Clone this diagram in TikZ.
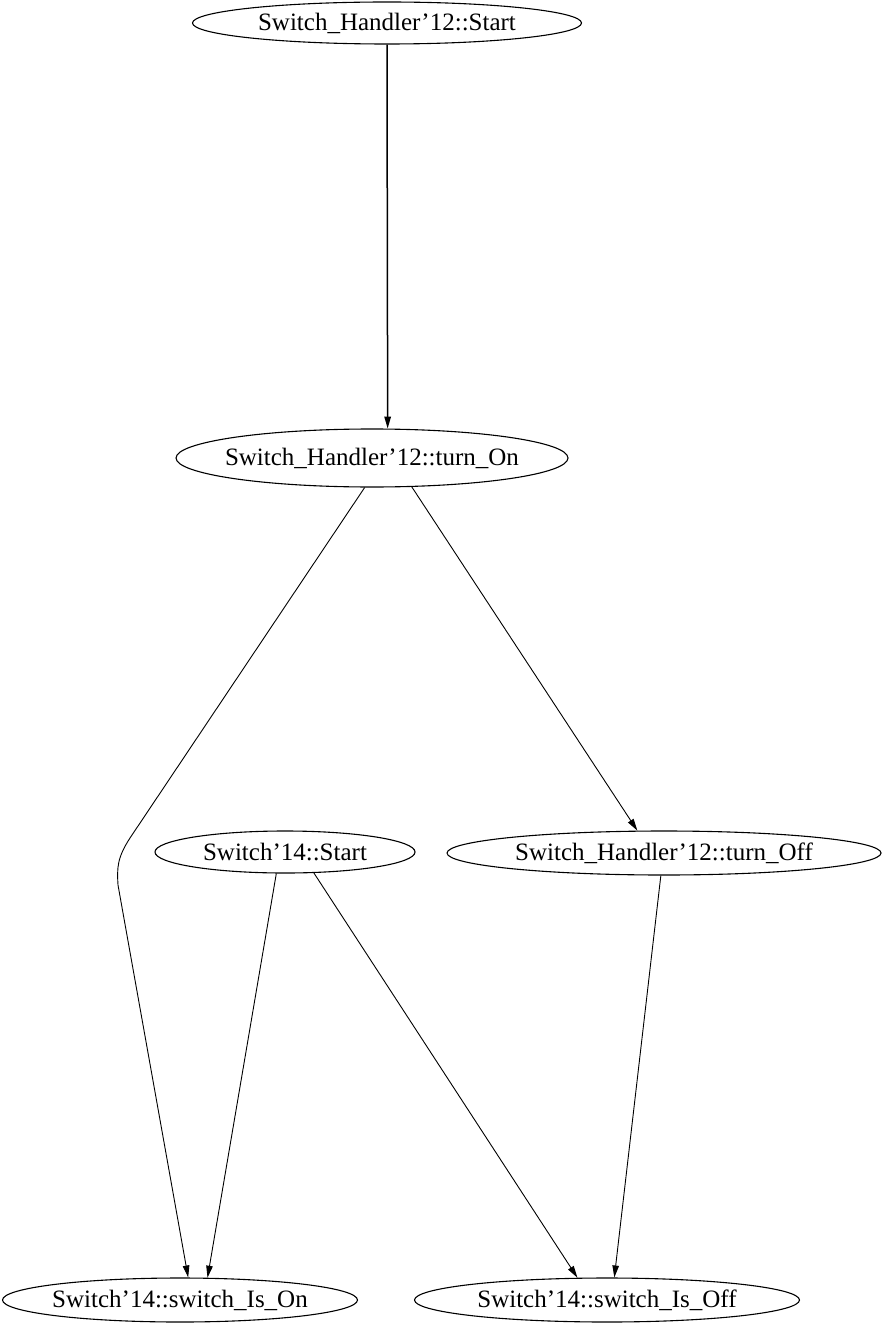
\documentclass[tikz,border=0pt]{standalone}
\usepackage{fontspec}
\setmainfont{Liberation Serif}
\usetikzlibrary{shapes.geometric,arrows.meta}

% the ellipse size is set by minimum width/height alone; the label is centred in it
\newcommand{\statelabel}[1]{\makebox[0pt]{#1}}

\tikzset{
  state/.style={draw, ellipse, inner sep=0pt, line width=1.1pt,
    font=\fontsize{25}{29}\selectfont},
  flow/.style={line width=0.9pt, -{Triangle[length=12pt,width=6.5pt]}},
}

\begin{document}
\begin{tikzpicture}[x=1pt,y=-1pt]
  \useasboundingbox (0,0) rectangle (881,1337);

  % states
  \node[state, minimum width=389pt, minimum height=42pt] (hstart) at (387,23)  {\statelabel{Switch\_Handler’12::Start}};
  \node[state, minimum width=392pt, minimum height=58pt] (on)     at (372,458) {\statelabel{Switch\_Handler’12::turn\_On}};
  \node[state, minimum width=260pt, minimum height=42pt] (sstart) at (285,852) {\statelabel{Switch’14::Start}};
  \node[state, minimum width=434pt, minimum height=44pt] (off)    at (664,853) {\statelabel{Switch\_Handler’12::turn\_Off}};
  \node[state, minimum width=355pt, minimum height=44pt] (ison)   at (180,1300) {\statelabel{Switch’14::switch\_Is\_On}};
  \node[state, minimum width=385pt, minimum height=44pt] (isoff)  at (607,1300) {\statelabel{Switch’14::switch\_Is\_Off}};

  % bend of the long edge down the left side
  \coordinate (bendA) at (130,838);
  \coordinate (bendB) at (118,885);

  % transitions
  \draw[flow, line width=1.5pt] (hstart.south) -- (on.62);
  \draw[flow] (on.256) -- (bendA) .. controls (117,858) and (117,868) .. (bendB) -- (ison.70);
  \draw[flow] (on.324) -- (off.140);
  \draw[flow] (sstart.248) -- (ison.39);
  \draw[flow] (sstart.324) -- (isoff.143);
  \draw[flow] (off.262) -- (isoff.72);
\end{tikzpicture}
\end{document}
